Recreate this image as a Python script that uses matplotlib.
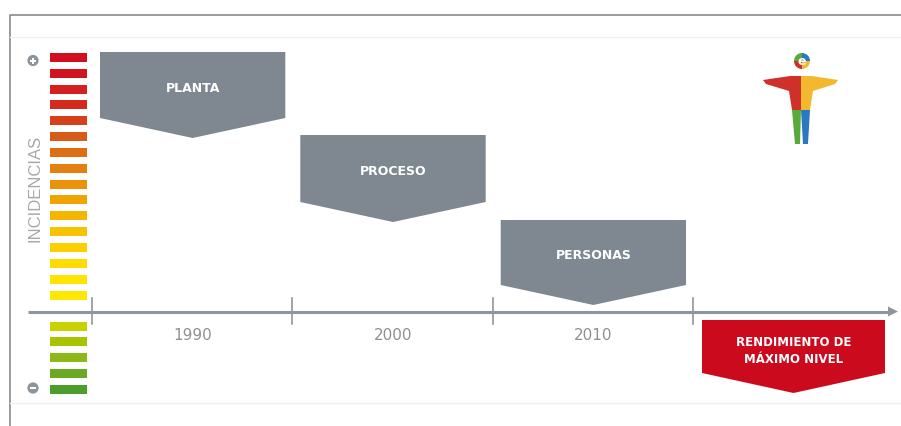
import matplotlib.pyplot as plt
from matplotlib.patches import Polygon, Rectangle, Circle, Wedge

plt.rcParams['font.family'] = ['DejaVu Sans']

# data
stages = ['PLANTA', 'PROCESO', 'PERSONAS']
years = ['1990', '2000', '2010']
goal = 'RENDIMIENTO DE\nMÁXIMO NIVEL'
axis_label = 'INCIDENCIAS'
upper_colors = ['#d20f1e', '#d2141e', '#d4201e', '#d42a1e', '#d6401a', '#d85a18',
                '#de6e14', '#e48010', '#ea9208', '#f0a400', '#f4b400', '#f8c200',
                '#fcd000', '#ffdc00', '#ffe400', '#ffe800']
lower_colors = ['#c8d200', '#a8c400', '#8cb818', '#6aaa22', '#4c9e2a']

W, H = 901, 426
fig = plt.figure(figsize=(W / 100, H / 100), dpi=100)
ax = fig.add_axes([0, 0, 1, 1])
ax.set_xlim(0, W)
ax.set_ylim(H, 0)
ax.axis('off')

grey = '#7f8891'
red = '#cc0a1e'
axis_col = '#8e969d'

# frame
ax.plot([10, 10, W], [H, 15, 15], color='#8a8a8a', lw=1.2)
ax.plot([10, W], [37, 37], color='#f0f0f0', lw=1)
ax.plot([10, W], [403, 403], color='#f0f0f0', lw=1)

# incidence scale bars
step = 15.85
for i, c in enumerate(upper_colors):
    y = 57.3 + i * step
    ax.add_patch(Rectangle((50, y - 4.5), 37, 9, facecolor=c, edgecolor='none'))
for i, c in enumerate(lower_colors):
    y = 326 + i * step
    ax.add_patch(Rectangle((50, y - 4.5), 37, 9, facecolor=c, edgecolor='none'))

# plus / minus markers
for y, sign in [(60.5, '+'), (388, '-')]:
    ax.add_patch(Circle((33, y), 5.6, facecolor='#8d949a', edgecolor='none'))
    ax.plot([30, 36], [y, y], color='white', lw=1.4, solid_capstyle='butt')
    if sign == '+':
        ax.plot([33, 33], [y - 3, y + 3], color='white', lw=1.4, solid_capstyle='butt')

ax.text(35, 188, axis_label, rotation=90, ha='center', va='center',
        fontsize=12, color='#a8a8a8', family='Liberation Sans')

# time axis
ax_y = 311.5
ticks = [92, 292.3, 492.7, 693]
ax.plot([28, 890], [ax_y, ax_y], color=axis_col, lw=2.2, solid_capstyle='butt')
ax.add_patch(Polygon([[888, ax_y - 5], [898, ax_y], [888, ax_y + 5]],
                     closed=True, facecolor=axis_col, edgecolor='none'))
for t in ticks:
    ax.plot([t, t], [298, 324], color=axis_col, lw=1.2)

def pentagon(x0, x1, top, bot, depth, color):
    xc = (x0 + x1) / 2
    pts = [[x0, top], [x1, top], [x1, bot], [xc, bot + depth], [x0, bot]]
    ax.add_patch(Polygon(pts, closed=True, facecolor=color, edgecolor='none'))
    return xc

tops = [52, 135, 220]
bots = [118, 202, 285]
for i, (name, yr) in enumerate(zip(stages, years)):
    x0 = ticks[i] + 8
    x1 = ticks[i + 1] - 7
    xc = pentagon(x0, x1, tops[i], bots[i], 20, grey)
    ax.text(xc, (tops[i] + bots[i]) / 2 + 3, name, ha='center', va='center',
            fontsize=9, fontweight='bold', color='white')
    ax.text(xc, 336, yr, ha='center', va='center', fontsize=11, color='#909090')

xc = pentagon(ticks[3] + 9, 885, 320, 373, 20, red)
ax.text(xc, 351, goal, ha='center', va='center', fontsize=8.5, fontweight='bold',
        color='white', linespacing=1.4)

# logo figure
ax.add_patch(Polygon([[763, 80], [790, 76], [801, 76], [801, 110], [792, 110],
                      [789, 91], [766, 84]], closed=True, facecolor='#d0302a', edgecolor='none'))
ax.add_patch(Polygon([[801, 76], [812, 76], [838, 80], [835, 84], [813, 91],
                      [810, 110], [801, 110]], closed=True, facecolor='#f2b92e', edgecolor='none'))
ax.add_patch(Polygon([[792, 110], [801, 110], [800, 144], [795, 144]],
                     closed=True, facecolor='#5aaa3a', edgecolor='none'))
ax.add_patch(Polygon([[801, 110], [810, 110], [808, 144], [803, 144]],
                     closed=True, facecolor='#2a78c0', edgecolor='none'))
hx, hy, hr = 802, 61, 8
ax.add_patch(Wedge((hx, hy), hr, 90, 180, facecolor='#d0302a', edgecolor='none'))
ax.add_patch(Wedge((hx, hy), hr, 0, 90, facecolor='#f2b92e', edgecolor='none'))
ax.add_patch(Wedge((hx, hy), hr, 180, 270, facecolor='#5aaa3a', edgecolor='none'))
ax.add_patch(Wedge((hx, hy), hr, 270, 360, facecolor='#2a78c0', edgecolor='none'))
ax.text(hx, hy + 0.5, 'e', ha='center', va='center', fontsize=9, fontweight='bold', color='white')

fig.savefig('out.png', dpi=100)
